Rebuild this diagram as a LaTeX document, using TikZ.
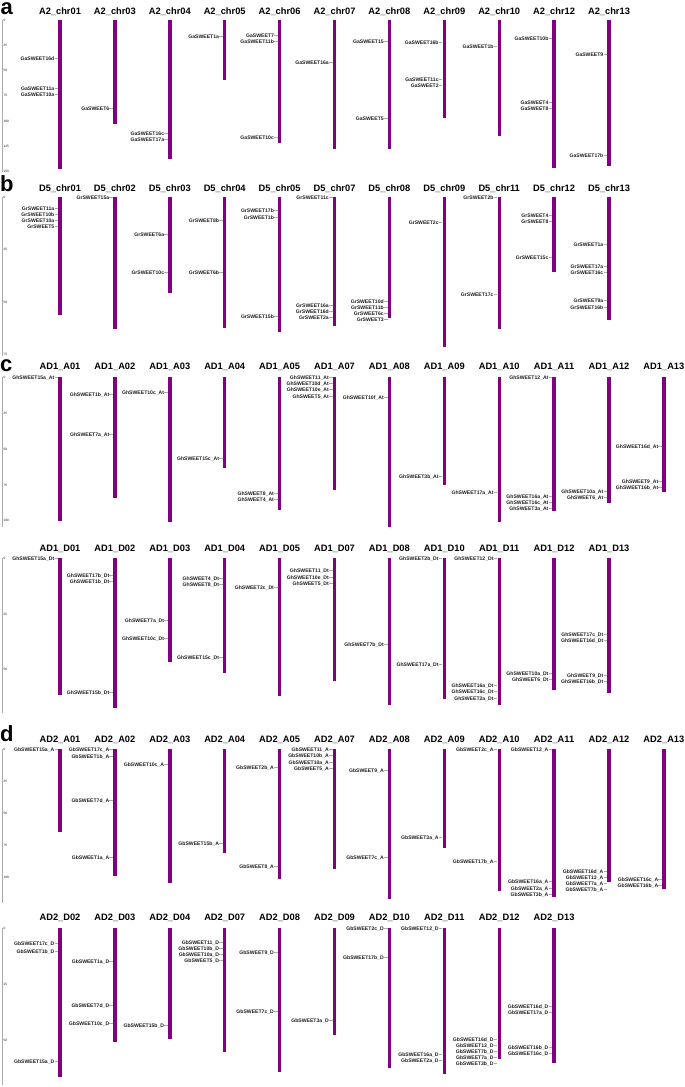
\documentclass[tikz,border=0pt]{standalone}
\usepackage{fontspec}
\setmainfont{Liberation Sans}
\definecolor{chrpurple}{RGB}{128,0,128}
\definecolor{labtext}{RGB}{30,30,30}
\definecolor{axgrey}{RGB}{170,170,170}
\tikzset{
  chrom/.style={draw=chrpurple,line width=3.4pt},
  chrtitle/.style={anchor=base,inner sep=0pt,font=\fontsize{9.3}{10}\selectfont\bfseries},
  gene/.style={anchor=mid east,inner sep=0pt,text=labtext,font=\fontsize{5.1}{6}\selectfont\bfseries},
  tick/.style={draw=axgrey,line width=0.3pt},
  axisline/.style={draw=axgrey,line width=0.8pt},
  axlab/.style={anchor=west,inner sep=0pt,text=labtext,font=\fontsize{3.2}{4}\selectfont},
  panel/.style={anchor=base west,inner sep=0pt,font=\fontsize{22}{24}\selectfont\bfseries}
}
\newcommand\chrbar[5]{%
  \node[chrtitle] at (#1,#5) {#4};
  \draw[chrom] (#1,#2) -- (#1,#3);}
\newcommand\genelab[3]{%
  \node[gene] (gl) at (#1-5.5,#2) {#3};
  \draw[tick] (gl.mid east) -- ++(3.6,0);}
\newcommand\axlabel[2]{\node[axlab] at (3.4,#1) {#2};}
\begin{document}
\begin{tikzpicture}[x=1pt,y=-1pt]
\useasboundingbox[fill=white] (0,0) rectangle (685,1087);
% ================= panel a
\node[panel] (pa) at (0.5,14.6) {a};
\draw[axisline] (2,20) -- (2,172);
\axlabel{20}{0}\axlabel{45.3}{25}\axlabel{70.3}{50}\axlabel{95.7}{75}\axlabel{121}{100}\axlabel{146}{125}\axlabel{171}{150}
\chrbar{60}{20}{169.3}{A2\_chr01}{14}
\chrbar{114.9}{20}{124.3}{A2\_chr03}{14}
\chrbar{169.8}{20}{159.3}{A2\_chr04}{14}
\chrbar{224.7}{20}{80.3}{A2\_chr05}{14}
\chrbar{279.6}{20}{142.7}{A2\_chr06}{14}
\chrbar{334.5}{20}{149.3}{A2\_chr07}{14}
\chrbar{389.4}{20}{149}{A2\_chr08}{14}
\chrbar{444.3}{20}{117.7}{A2\_chr09}{14}
\chrbar{499.2}{20}{136}{A2\_chr10}{14}
\chrbar{554.1}{20}{167.7}{A2\_chr12}{14}
\chrbar{609}{20}{165.7}{A2\_chr13}{14}
\genelab{60}{58.3}{GaSWEET16d}
\genelab{60}{88}{GaSWEET11a}
\genelab{60}{94}{GaSWEET10a}
\genelab{114.9}{108.3}{GaSWEET6}
\genelab{169.8}{133}{GaSWEET16c}
\genelab{169.8}{139.3}{GaSWEET17a}
\genelab{224.7}{36}{GaSWEET1a}
\genelab{279.6}{35.3}{GaSWEET7}
\genelab{279.6}{41.3}{GaSWEET11b}
\genelab{279.6}{136.7}{GaSWEET10c}
\genelab{334.5}{62.3}{GaSWEET16a}
\genelab{389.4}{40.7}{GaSWEET15}
\genelab{389.4}{118.3}{GaSWEET5}
\genelab{444.3}{42}{GaSWEET16b}
\genelab{444.3}{79.3}{GaSWEET11c}
\genelab{444.3}{85.3}{GaSWEET2}
\genelab{499.2}{45.7}{GaSWEET1b}
\genelab{554.1}{37.7}{GaSWEET10b}
\genelab{554.1}{101.7}{GaSWEET4}
\genelab{554.1}{107.7}{GaSWEET8}
\genelab{609}{54}{GaSWEET9}
\genelab{609}{155.3}{GaSWEET17b}
% ================= panel b
\node[panel] (pb) at (0,191) {b};
\draw[axisline] (2,197) -- (2,356);
\axlabel{197}{0}\axlabel{249.7}{25}\axlabel{302.3}{50}\axlabel{354}{75}
\chrbar{60}{197}{315}{D5\_chr01}{191.6}
\chrbar{114.9}{197}{329.3}{D5\_chr02}{191.6}
\chrbar{169.8}{197}{293.3}{D5\_chr03}{191.6}
\chrbar{224.7}{197}{328.3}{D5\_chr04}{191.6}
\chrbar{279.6}{197}{332.3}{D5\_chr05}{191.6}
\chrbar{334.5}{197}{325.7}{D5\_chr07}{191.6}
\chrbar{389.4}{197}{317.7}{D5\_chr08}{191.6}
\chrbar{444.3}{197}{346.7}{D5\_chr09}{191.6}
\chrbar{499.2}{197}{329.3}{D5\_chr11}{191.6}
\chrbar{554.1}{197}{272.3}{D5\_chr12}{191.6}
\chrbar{609}{197}{320}{D5\_chr13}{191.6}
\genelab{60}{208}{GrSWEET11a}
\genelab{60}{214}{GrSWEET10b}
\genelab{60}{220}{GrSWEET10a}
\genelab{60}{226.3}{GrSWEET5}
\genelab{114.9}{197}{GrSWEET15a}
\genelab{169.8}{234.3}{GrSWEET6a}
\genelab{169.8}{272.3}{GrSWEET10c}
\genelab{224.7}{220}{GrSWEET8b}
\genelab{224.7}{272.3}{GrSWEET6b}
\genelab{279.6}{210}{GrSWEET17b}
\genelab{279.6}{216.7}{GrSWEET1b}
\genelab{279.6}{316}{GrSWEET15b}
\genelab{334.5}{197}{GrSWEET11c}
\genelab{334.5}{305}{GrSWEET16a}
\genelab{334.5}{311}{GrSWEET16d}
\genelab{334.5}{317.3}{GrSWEET2a}
\genelab{389.4}{301}{GrSWEET10d}
\genelab{389.4}{307}{GrSWEET11b}
\genelab{389.4}{313}{GrSWEET6c}
\genelab{389.4}{319.3}{GrSWEET3}
\genelab{444.3}{222.3}{GrSWEET2c}
\genelab{499.2}{197}{GrSWEET2b}
\genelab{499.2}{293.7}{GrSWEET17c}
\genelab{554.1}{215}{GrSWEET4}
\genelab{554.1}{221}{GrSWEET8}
\genelab{554.1}{257.3}{GrSWEET15c}
\genelab{609}{244}{GrSWEET1a}
\genelab{609}{265.7}{GrSWEET17a}
\genelab{609}{272}{GrSWEET16c}
\genelab{609}{300.3}{GrSWEET9a}
\genelab{609}{306.7}{GrSWEET16b}
% ================= panel c (At)
\node[panel] (pc) at (0,371.5) {c};
\draw[axisline] (2,377) -- (2,527);
\axlabel{377}{0}\axlabel{413.3}{25}\axlabel{449}{50}\axlabel{485}{75}\axlabel{520.7}{100}
\chrbar{60}{377}{520.7}{AD1\_A01}{369.6}
\chrbar{114.9}{377}{497.7}{AD1\_A02}{369.6}
\chrbar{169.8}{377}{521.7}{AD1\_A03}{369.6}
\chrbar{224.7}{377}{468}{AD1\_A04}{369.6}
\chrbar{279.6}{377}{509.7}{AD1\_A05}{369.6}
\chrbar{334.5}{377}{490}{AD1\_A07}{369.6}
\chrbar{389.4}{377}{526.7}{AD1\_A08}{369.6}
\chrbar{444.3}{377}{485}{AD1\_A09}{369.6}
\chrbar{499.2}{377}{522.3}{AD1\_A10}{369.6}
\chrbar{554.1}{377}{511}{AD1\_A11}{369.6}
\chrbar{609}{377}{503}{AD1\_A12}{369.6}
\chrbar{663.9}{377}{492}{AD1\_A13}{369.6}
\genelab{60}{377}{GhSWEET15a\_At}
\genelab{114.9}{394}{GhSWEET1b\_At}
\genelab{114.9}{434}{GhSWEET7a\_At}
\genelab{169.8}{391.7}{GhSWEET10c\_At}
\genelab{224.7}{457.7}{GhSWEET15c\_At}
\genelab{279.6}{492.7}{GhSWEET8\_At}
\genelab{279.6}{499.3}{GhSWEET4\_At}
\genelab{334.5}{377.3}{GhSWEET11\_At}
\genelab{334.5}{383.3}{GhSWEET10d\_At}
\genelab{334.5}{389.3}{GhSWEET10e\_At}
\genelab{334.5}{395.7}{GhSWEET5\_At}
\genelab{389.4}{397.3}{GhSWEET10f\_At}
\genelab{444.3}{475.7}{GhSWEET3b\_At}
\genelab{499.2}{491.7}{GhSWEET17a\_At}
\genelab{554.1}{377}{GhSWEET12\_At}
\genelab{554.1}{496}{GhSWEET16a\_At}
\genelab{554.1}{502}{GhSWEET16c\_At}
\genelab{554.1}{508.3}{GhSWEET3a\_At}
\genelab{609}{491}{GhSWEET10a\_At}
\genelab{609}{497.3}{GhSWEET6\_At}
\genelab{663.9}{446}{GhSWEET16d\_At}
\genelab{663.9}{480.7}{GhSWEET9\_At}
\genelab{663.9}{487}{GhSWEET16b\_At}
% ================= panel c (Dt)
\draw[axisline] (2,558.3) -- (2,713);
\axlabel{558.3}{0}\axlabel{614}{25}\axlabel{669.7}{50}
\chrbar{60}{558.3}{695}{AD1\_D01}{551.6}
\chrbar{114.9}{558.3}{708}{AD1\_D02}{551.6}
\chrbar{169.8}{558.3}{662.3}{AD1\_D03}{551.6}
\chrbar{224.7}{558.3}{672.7}{AD1\_D04}{551.6}
\chrbar{279.6}{558.3}{696.3}{AD1\_D05}{551.6}
\chrbar{334.5}{558.3}{681.3}{AD1\_D07}{551.6}
\chrbar{389.4}{558.3}{705}{AD1\_D08}{551.6}
\chrbar{444.3}{558.3}{699.3}{AD1\_D10}{551.6}
\chrbar{499.2}{558.3}{705}{AD1\_D11}{551.6}
\chrbar{554.1}{558.3}{690}{AD1\_D12}{551.6}
\chrbar{609}{558.3}{693}{AD1\_D13}{551.6}
\genelab{60}{558.3}{GhSWEET15a\_Dt}
\genelab{114.9}{574.7}{GhSWEET17b\_Dt}
\genelab{114.9}{581}{GhSWEET1b\_Dt}
\genelab{114.9}{691.7}{GhSWEET15b\_Dt}
\genelab{169.8}{620.3}{GhSWEET7a\_Dt}
\genelab{169.8}{638.3}{GhSWEET10c\_Dt}
\genelab{224.7}{577.7}{GhSWEET4\_Dt}
\genelab{224.7}{584}{GhSWEET8\_Dt}
\genelab{224.7}{656.7}{GhSWEET15c\_Dt}
\genelab{279.6}{587.3}{GhSWEET2c\_Dt}
\genelab{334.5}{570.3}{GhSWEET11\_Dt}
\genelab{334.5}{576.7}{GhSWEET10e\_Dt}
\genelab{334.5}{583}{GhSWEET5\_Dt}
\genelab{389.4}{643.7}{GhSWEET7b\_Dt}
\genelab{444.3}{558.3}{GhSWEET2b\_Dt}
\genelab{444.3}{664}{GhSWEET17a\_Dt}
\genelab{499.2}{558.3}{GhSWEET12\_Dt}
\genelab{499.2}{685.3}{GhSWEET16a\_Dt}
\genelab{499.2}{691.3}{GhSWEET16c\_Dt}
\genelab{499.2}{698}{GhSWEET2a\_Dt}
\genelab{554.1}{673}{GhSWEET10a\_Dt}
\genelab{554.1}{679.3}{GhSWEET6\_Dt}
\genelab{609}{634}{GhSWEET17c\_Dt}
\genelab{609}{640.3}{GhSWEET16d\_Dt}
\genelab{609}{674.7}{GhSWEET9\_Dt}
\genelab{609}{681}{GhSWEET16b\_Dt}
% ================= panel d (A)
\node[panel] (pd) at (0,741.7) {d};
\draw[axisline] (2,749.3) -- (2,903);
\axlabel{749.3}{0}\axlabel{781.7}{25}\axlabel{813.7}{50}\axlabel{845.7}{75}\axlabel{877.7}{100}
\chrbar{60}{749.3}{831.7}{AD2\_A01}{742.3}
\chrbar{114.9}{749.3}{876}{AD2\_A02}{742.3}
\chrbar{169.8}{749.3}{883.3}{AD2\_A03}{742.3}
\chrbar{224.7}{749.3}{852.7}{AD2\_A04}{742.3}
\chrbar{279.6}{749.3}{878.7}{AD2\_A05}{742.3}
\chrbar{334.5}{749.3}{869.3}{AD2\_A07}{742.3}
\chrbar{389.4}{749.3}{899}{AD2\_A08}{742.3}
\chrbar{444.3}{749.3}{848}{AD2\_A09}{742.3}
\chrbar{499.2}{749.3}{890.7}{AD2\_A10}{742.3}
\chrbar{554.1}{749.3}{897.3}{AD2\_A11}{742.3}
\chrbar{609}{749.3}{882.3}{AD2\_A12}{742.3}
\chrbar{663.9}{749.3}{888.7}{AD2\_A13}{742.3}
\genelab{60}{749.3}{GbSWEET15a\_A}
\genelab{114.9}{749.3}{GbSWEET17c\_A}
\genelab{114.9}{755.7}{GbSWEET1b\_A}
\genelab{114.9}{800.3}{GbSWEET7d\_A}
\genelab{114.9}{857}{GbSWEET1a\_A}
\genelab{169.8}{764.3}{GbSWEET10c\_A}
\genelab{224.7}{843.3}{GbSWEET15b\_A}
\genelab{279.6}{767}{GbSWEET2b\_A}
\genelab{279.6}{866}{GbSWEET8\_A}
\genelab{334.5}{749.3}{GbSWEET11\_A}
\genelab{334.5}{755.3}{GbSWEET10b\_A}
\genelab{334.5}{761.7}{GbSWEET10a\_A}
\genelab{334.5}{768}{GbSWEET5\_A}
\genelab{389.4}{770.3}{GbSWEET9\_A}
\genelab{389.4}{857.3}{GbSWEET7c\_A}
\genelab{444.3}{837.3}{GbSWEET3a\_A}
\genelab{499.2}{749.3}{GbSWEET2c\_A}
\genelab{499.2}{860.7}{GbSWEET17b\_A}
\genelab{554.1}{749.3}{GbSWEET12\_A}
\genelab{554.1}{881.3}{GbSWEET16a\_A}
\genelab{554.1}{887.7}{GbSWEET2a\_A}
\genelab{554.1}{894}{GbSWEET3b\_A}
\genelab{609}{870.7}{GbSWEET16d\_A}
\genelab{609}{876.7}{GbSWEET13\_A}
\genelab{609}{882.7}{GbSWEET7a\_A}
\genelab{609}{889}{GbSWEET7b\_A}
\genelab{663.9}{879}{GbSWEET16c\_A}
\genelab{663.9}{885.3}{GbSWEET16b\_A}
% ================= panel d (D)
\draw[axisline] (2,928) -- (2,1085);
\axlabel{928}{0}\axlabel{984.3}{25}\axlabel{1040.3}{50}
\chrbar{60}{928}{1076.7}{AD2\_D02}{920.6}
\chrbar{114.9}{928}{1042.3}{AD2\_D03}{920.6}
\chrbar{169.8}{928}{1039.3}{AD2\_D04}{920.6}
\chrbar{224.7}{928}{1052.3}{AD2\_D07}{920.6}
\chrbar{279.6}{928}{1071.7}{AD2\_D08}{920.6}
\chrbar{334.5}{928}{1035.3}{AD2\_D09}{920.6}
\chrbar{389.4}{928}{1068.3}{AD2\_D10}{920.6}
\chrbar{444.3}{928}{1074}{AD2\_D11}{920.6}
\chrbar{499.2}{928}{1059.3}{AD2\_D12}{920.6}
\chrbar{554.1}{928}{1062.7}{AD2\_D13}{920.6}
\genelab{60}{943.3}{GbSWEET17c\_D}
\genelab{60}{950.7}{GbSWEET1b\_D}
\genelab{60}{1061.3}{GbSWEET15a\_D}
\genelab{114.9}{961.3}{GbSWEET1a\_D}
\genelab{114.9}{1005.3}{GbSWEET7d\_D}
\genelab{114.9}{1022.7}{GbSWEET10c\_D}
\genelab{169.8}{1024.7}{GbSWEET15b\_D}
\genelab{224.7}{941.7}{GbSWEET11\_D}
\genelab{224.7}{947.7}{GbSWEET10b\_D}
\genelab{224.7}{953.7}{GbSWEET10a\_D}
\genelab{224.7}{960}{GbSWEET5\_D}
\genelab{279.6}{952.3}{GbSWEET9\_D}
\genelab{279.6}{1011}{GbSWEET7c\_D}
\genelab{334.5}{1020}{GbSWEET3a\_D}
\genelab{389.4}{928}{GbSWEET2c\_D}
\genelab{389.4}{956.7}{GbSWEET17b\_D}
\genelab{444.3}{928}{GbSWEET12\_D}
\genelab{444.3}{1054}{GbSWEET16a\_D}
\genelab{444.3}{1060.3}{GbSWEET2a\_D}
\genelab{499.2}{1038.7}{GbSWEET16d\_D}
\genelab{499.2}{1044.7}{GbSWEET13\_D}
\genelab{499.2}{1051}{GbSWEET7b\_D}
\genelab{499.2}{1057}{GbSWEET7a\_D}
\genelab{499.2}{1063.3}{GbSWEET3b\_D}
\genelab{554.1}{1006}{GbSWEET16d\_D}
\genelab{554.1}{1012}{GbSWEET17a\_D}
\genelab{554.1}{1047}{GbSWEET16b\_D}
\genelab{554.1}{1053.3}{GbSWEET16c\_D}
\end{tikzpicture}
\end{document}
